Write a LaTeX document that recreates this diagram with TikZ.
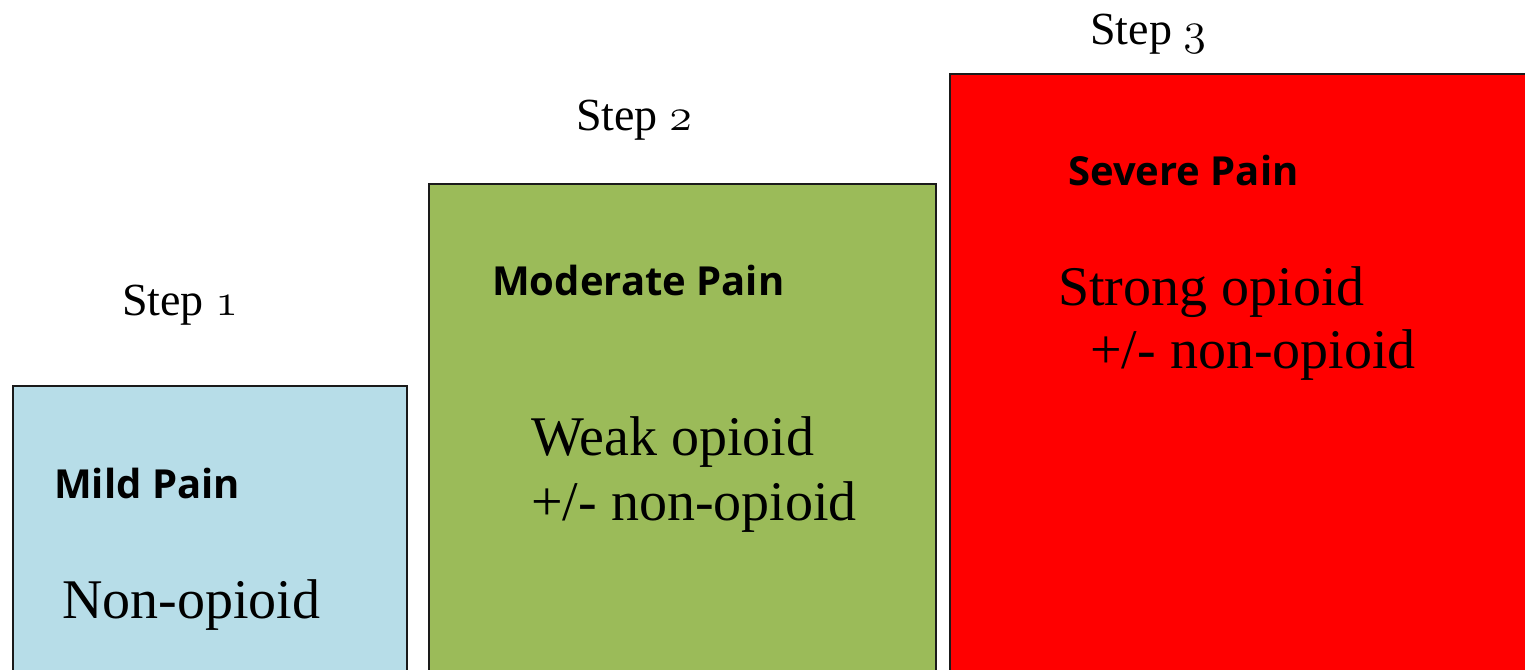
\RequirePackage{fix-cm}
\documentclass[tikz,border=0pt]{standalone}
\usepackage{fontspec}
\setmainfont{Liberation Serif}
\newfontfamily\labelsans{Open Sans}
\newcommand\osnum[1]{{\usefont{OML}{cmm}{m}{it}#1}}
\definecolor{mildblue}{HTML}{B7DDE8}
\definecolor{modgreen}{HTML}{9BBB59}
\definecolor{sevred}{HTML}{FF0000}
\definecolor{edgegray}{HTML}{1A1A1A}
\tikzset{
  stepbox/.style={draw=edgegray, line width=2pt, anchor=north west, inner sep=0pt},
  steplabel/.style={anchor=base west, inner sep=0pt, font=\fontsize{46}{54}\selectfont},
  painlabel/.style={anchor=base west, inner sep=0pt, font=\labelsans\bfseries\fontsize{40}{48}\selectfont},
  drugtext/.style={anchor=base west, inner sep=0pt, font=\fontsize{56}{64}\selectfont}
}
\begin{document}
\begin{tikzpicture}[x=1pt,y=-1pt]
\useasboundingbox (0,0) rectangle (1525,669);
\clip (0,0) rectangle (1525,669);
\fill[white] (0,0) rectangle (1525,669);
% boxes
\node[stepbox, fill=mildblue, minimum width=394pt, minimum height=320pt] (box1) at (12,385) {};
\node[stepbox, fill=modgreen, minimum width=507pt, minimum height=520pt] (box2) at (428,183) {};
\node[stepbox, fill=sevred, minimum width=600pt, minimum height=640pt] (box3) at (949,73) {};
% step labels
\node[steplabel] (s1) at (122,315) {Step \osnum{1}};
\node[steplabel] (s2) at (576,130) {Step \osnum{2}};
\node[steplabel] (s3) at (1090,45) {Step \osnum{3}};
% pain labels
\node[painlabel] (p1) at (54,498) {Mild Pain};
\node[painlabel] (p2) at (492,295) {Moderate Pain};
\node[painlabel] (p3) at (1068,185) {Severe Pain};
% drug text
\node[drugtext] (d1) at (62,618) {Non-opioid};
\node[drugtext] (d2a) at (531,455) {Weak opioid};
\node[drugtext] (d2b) at (531,520) {+/- non-opioid};
\node[drugtext] (d3a) at (1058,305) {Strong opioid};
\node[drugtext] (d3b) at (1090,368) {+/- non-opioid};
\end{tikzpicture}
\end{document}
